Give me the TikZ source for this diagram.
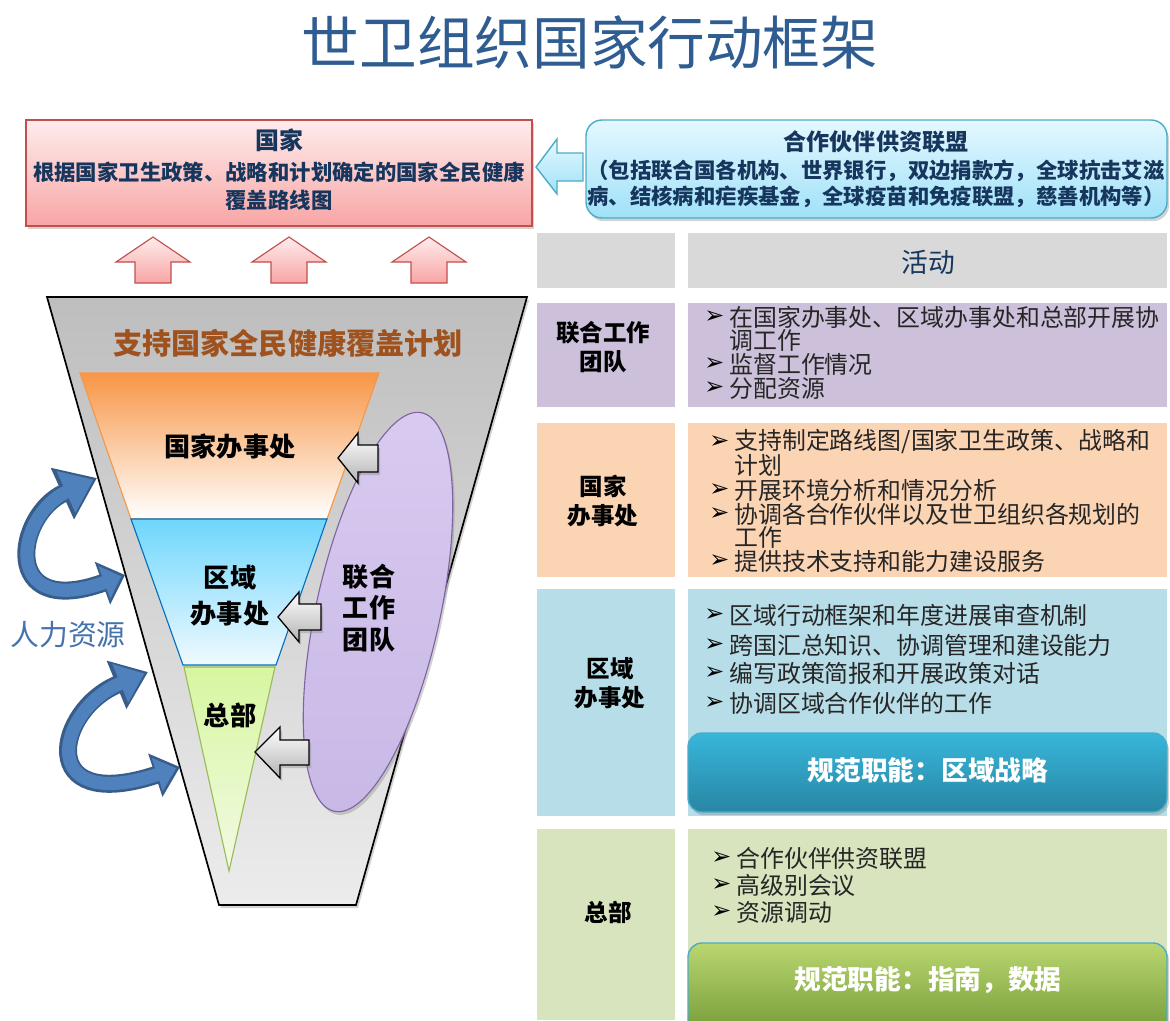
\documentclass[tikz,border=0pt]{standalone}
\usepackage{fontspec}
\setmainfont{Noto Sans CJK SC}
\newfontfamily\symfont{DejaVu Sans}
\usetikzlibrary{arrows.meta,shadows}

%colours
\definecolor{TitleBlue}{RGB}{47,92,145}
\definecolor{NavyText}{RGB}{23,54,93}
\definecolor{PinkEdge}{RGB}{192,80,77}
\definecolor{PinkTop}{RGB}{255,236,236}
\definecolor{PinkBottom}{RGB}{248,165,165}
\definecolor{CyanEdge}{RGB}{75,172,198}
\definecolor{CyanTop}{RGB}{228,248,255}
\definecolor{CyanBottom}{RGB}{160,225,248}
\definecolor{FunnelTop}{RGB}{190,190,190}
\definecolor{FunnelBottom}{RGB}{236,236,236}
\definecolor{OrangeTop}{RGB}{247,150,70}
\definecolor{SkyTop}{RGB}{110,214,252}
\definecolor{SkyBottom}{RGB}{240,250,255}
\definecolor{SkyEdge}{RGB}{0,112,192}
\definecolor{LimeTop}{RGB}{215,246,160}
\definecolor{LimeBottom}{RGB}{242,250,228}
\definecolor{LimeEdge}{RGB}{155,187,89}
\definecolor{LilacTop}{RGB}{216,202,240}
\definecolor{LilacFill}{RGB}{200,184,230}
\definecolor{LilacEdge}{RGB}{128,100,162}
\definecolor{HRBlue}{RGB}{79,129,189}
\definecolor{HRDark}{RGB}{56,93,138}
\definecolor{HRText}{RGB}{68,114,172}
\definecolor{PlanBrown}{RGB}{160,82,30}
\definecolor{HeadGrey}{RGB}{217,217,217}
\definecolor{RowLilac}{RGB}{204,192,218}
\definecolor{RowPeach}{RGB}{251,212,180}
\definecolor{RowSky}{RGB}{183,221,232}
\definecolor{RowSage}{RGB}{215,228,189}
\definecolor{NormBlueTop}{RGB}{56,182,218}
\definecolor{NormBlueBottom}{RGB}{40,134,165}
\definecolor{NormGreenTop}{RGB}{186,214,112}
\definecolor{NormGreenBottom}{RGB}{112,152,52}

\tikzset{
  shd/.style={drop shadow={opacity=0.35,shadow xshift=0.05cm,shadow yshift=-0.08cm}},
  blockarrow/.style={draw=black,line width=0.9pt,top color=white,bottom color=black!30,shd},
  uparrow/.style={draw=PinkEdge,line width=0.8pt,top color=PinkTop,bottom color=PinkBottom},
  levellabel/.style={inner sep=0pt,align=center,font=\fontsize{18.6}{25.6}\selectfont\bfseries},
  rowlabel/.style={inner sep=0pt,align=center,font=\fontsize{16.7}{21}\selectfont\bfseries},
  itemtext/.style={anchor=west,inner sep=0pt,text=black!85,font=\fontsize{17}{20}\selectfont},
  itemmark/.style={anchor=west,inner sep=0pt,font=\symfont\bfseries\fontsize{17}{18}\selectfont},
  normbox/.style={draw=CyanEdge,line width=1pt,rounded corners=0.35cm,shd},
  normtext/.style={inner sep=0pt,text=white,font=\fontsize{19}{22}\selectfont\bfseries},
}

\begin{document}
\begin{tikzpicture}[x=0.025cm,y=-0.025cm]
\useasboundingbox (0,0) rectangle (1170,1020);

%Title
\node[font=\fontsize{41}{45}\selectfont,text=TitleBlue] (title) at (590,42) {世卫组织国家行动框架};

%Country box
\draw[PinkEdge,line width=1pt,top color=PinkTop,bottom color=PinkBottom,shd] (26,120) rectangle (532,226);
\node[font=\fontsize{17}{20}\selectfont\bfseries,text=NavyText] (country) at (279,140) {国家};
\node[font=\fontsize{15.2}{20}\selectfont\bfseries,text=NavyText,align=center] (countrytxt) at (279,186)
  {根据国家卫生政策、战略和计划确定的国家全民健康\\覆盖路线图};

%Partners box
\draw[CyanEdge,line width=1pt,rounded corners=0.4cm,top color=CyanTop,bottom color=CyanBottom,shd] (586,120) rectangle (1167,218);
\node[font=\fontsize{16.4}{20}\selectfont\bfseries,text=NavyText] (partners) at (876,142) {合作伙伴供资联盟};
\node[font=\fontsize{15.2}{18.5}\selectfont\bfseries,text=NavyText,align=center] (partnerstxt) at (876,184)
  {（包括联合国各机构、世界银行，双边捐款方，全球抗击艾滋\\病、结核病和疟疾基金，全球疫苗和免疫联盟，慈善机构等）};

%arrow partners -> country
\draw[CyanEdge,line width=1pt,top color=CyanTop,bottom color=CyanBottom] (536,167) -- (557,139) -- (557,153) -- (583,153) -- (583,181) -- (557,181) -- (557,194) -- cycle;

%up arrows
\foreach \cx in {153,289,429}
  \draw[uparrow] (\cx,237) -- (\cx+37,262) -- (\cx+18,262) -- (\cx+18,283) -- (\cx-18,283) -- (\cx-18,262) -- (\cx-37,262) -- cycle;

%funnel
\draw[line width=1.2pt,top color=FunnelTop,bottom color=FunnelBottom,shd] (47,297) -- (527,297) -- (356,905) -- (219,905) -- cycle;
\node[font=\fontsize{20.7}{24}\selectfont\bfseries,text=PlanBrown] (plan) at (288,343) {支持国家全民健康覆盖计划};

%levels
\draw[OrangeTop,line width=0.8pt,top color=OrangeTop,bottom color=white] (80,373) -- (379,373) -- (327,519) -- (131,519) -- cycle;
\draw[SkyEdge,line width=0.8pt,top color=SkyTop,bottom color=SkyBottom] (131,519) -- (327,519) -- (276,665) -- (183,665) -- cycle;
\draw[LimeEdge,line width=0.8pt,top color=LimeTop,bottom color=LimeBottom] (184,667) -- (275,667) -- (229,871) -- cycle;
\node[levellabel] (countryoffice) at (230,447) {国家办事处};
\node[levellabel] (regionoffice) at (230,596) {区域\\办事处};
\node[levellabel] (hq) at (230,715) {总部};

%joint team
\draw[LilacEdge,line width=0.8pt,top color=LilacTop,bottom color=LilacFill,shd,rotate around={-12.4:(378,612)}] (378,612) ellipse (62 and 204);
\node[levellabel,font=\fontsize{18.5}{22.5}\selectfont\bfseries] (jointteam) at (369,608) {联合\\工作\\团队};

%grey arrows
\draw[blockarrow] (338,458) -- (358,433) -- (358,445) -- (378,445) -- (378,472) -- (358,472) -- (358,483) -- cycle;
\draw[blockarrow] (278,617) -- (299,592) -- (299,604) -- (321,604) -- (321,630) -- (299,630) -- (299,642) -- cycle;
\draw[blockarrow] (255,752) -- (280,727) -- (280,740) -- (309,740) -- (309,765) -- (280,765) -- (280,778) -- cycle;

%human resources
\draw[HRDark,line width=0.45cm,{Triangle[width=1.35cm,length=0.95cm]}-{Triangle[width=1.1cm,length=0.6cm]}]
  (97,478) .. controls (15,515) and (0,620) .. (125,575);
\draw[HRBlue,line width=0.33cm,shorten <=0.1cm,shorten >=0.1cm,{Triangle[width=1.1cm,length=0.75cm]}-{Triangle[width=0.85cm,length=0.45cm]}]
  (97,478) .. controls (15,515) and (0,620) .. (125,575);
\draw[HRDark,line width=0.45cm,{Triangle[width=1.25cm,length=0.85cm]}-{Triangle[width=1.1cm,length=0.65cm]}]
  (148,672) .. controls (55,710) and (35,815) .. (180,767);
\draw[HRBlue,line width=0.33cm,shorten <=0.1cm,shorten >=0.1cm,{Triangle[width=1cm,length=0.65cm]}-{Triangle[width=0.85cm,length=0.5cm]}]
  (148,672) .. controls (55,710) and (35,815) .. (180,767);
\node[font=\fontsize{20.5}{24}\selectfont,text=HRText] (hr) at (68,635) {人力资源};

%table header
\fill[HeadGrey] (537,233) rectangle (675,288);
\fill[HeadGrey] (688,233) rectangle (1167,288);
\node[font=\fontsize{19}{22}\selectfont,text=NavyText] (activities) at (928,262) {活动};

%joint team row
\fill[RowLilac] (537,303) rectangle (675,407);
\fill[RowLilac] (688,303) rectangle (1167,407);
\node[rowlabel] (jtlabel) at (603,347) {联合工作\\团队};
\foreach \yline/\hasmark/\itemtxt in {317/1/在国家办事处、区域办事处和总部开展协, 340/0/调工作, 364/1/监督工作情况, 388/1/分配资源}{
  \node[itemtext] (jt-\yline) at (729,\yline) {\itemtxt};
  \ifnum\hasmark=1 \node[itemmark] at (704,\yline) {➢}; \fi
}

%country office row
\fill[RowPeach] (537,423) rectangle (675,577);
\fill[RowPeach] (688,423) rectangle (1167,577);
\node[rowlabel] (colabel) at (603,501) {国家\\办事处};
\foreach \yline/\hasmark/\itemtxt in {442/1/{支持制定路线图/国家卫生政策、战略和}, 465/0/计划, 490/1/开展环境分析和情况分析, 514/1/协调各合作伙伴以及世卫组织各规划的, 537/0/工作, 561/1/提供技术支持和能力建设服务}{
  \node[itemtext] (co-\yline) at (734,\yline) {\itemtxt};
  \ifnum\hasmark=1 \node[itemmark] at (709,\yline) {➢}; \fi
}

%regional office row
\fill[RowSky] (537,589) rectangle (675,816);
\fill[RowSky] (688,589) rectangle (1167,816);
\node[rowlabel] (rolabel) at (610,683) {区域\\办事处};
\foreach \yline/\itemtxt in {615/区域行动框架和年度进展审查机制, 645/跨国汇总知识、协调管理和建设能力, 673/编写政策简报和开展政策对话, 703/协调区域合作伙伴的工作}{
  \node[itemtext] (ro-\yline) at (729,\yline) {\itemtxt};
  \node[itemmark] at (704,\yline) {➢};
}
\draw[normbox,top color=NormBlueTop,bottom color=NormBlueBottom] (688,733) rectangle (1167,812);
\node[normtext] (normregion) at (928,770) {规范职能：区域战略};

%headquarters row
\fill[RowSage] (537,829) rectangle (675,1020);
\fill[RowSage] (688,829) rectangle (1167,1020);
\node[rowlabel] (hqlabel) at (608,912) {总部};
\foreach \yline/\itemtxt in {858/合作伙伴供资联盟, 885/高级别会议, 912/资源调动}{
  \node[itemtext] (hq-\yline) at (736,\yline) {\itemtxt};
  \node[itemmark] at (711,\yline) {➢};
}
\draw[normbox,top color=NormGreenTop,bottom color=NormGreenBottom] (688,943) rectangle (1167,1040);
\node[normtext] (normhq) at (928,980) {规范职能：指南，数据};

\end{tikzpicture}
\end{document}
